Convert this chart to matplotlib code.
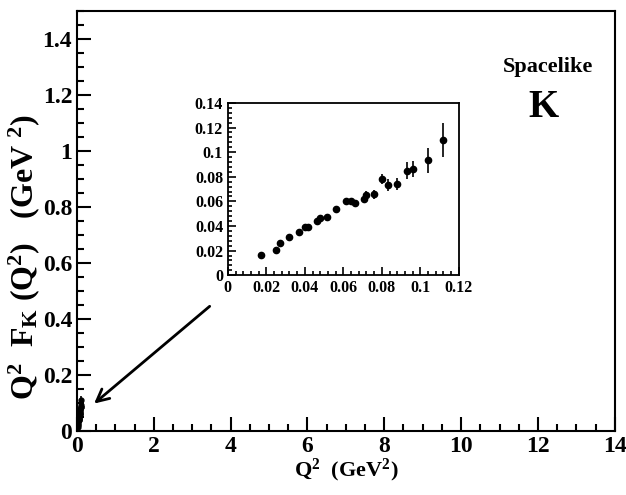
import matplotlib
matplotlib.use('Agg')
import matplotlib.pyplot as plt
from matplotlib.ticker import MultipleLocator

plt.rcParams['font.family'] = 'Liberation Serif'
plt.rcParams['font.weight'] = 'bold'
plt.rcParams['mathtext.fontset'] = 'custom'
plt.rcParams['mathtext.rm'] = 'Liberation Serif:bold'
plt.rcParams['mathtext.bf'] = 'Liberation Serif:bold'
plt.rcParams['mathtext.it'] = 'Liberation Serif:bold'
plt.rcParams['mathtext.default'] = 'bf'

# kaon form factor data
q2 = [0.0173, 0.0250, 0.0271, 0.0319, 0.0369, 0.0402, 0.0418, 0.0464,
      0.0478, 0.0513, 0.0563, 0.0613, 0.0639, 0.0660, 0.0708, 0.0720,
      0.0758, 0.0799, 0.0834, 0.0881, 0.0929, 0.0962, 0.1039, 0.1120]
q2f = [0.0165, 0.0203, 0.0265, 0.0311, 0.0352, 0.0393, 0.0395, 0.0439,
       0.0463, 0.0471, 0.0539, 0.0607, 0.0601, 0.0588, 0.0620, 0.0653,
       0.0658, 0.0783, 0.0734, 0.0742, 0.0850, 0.0861, 0.0934, 0.1097]
err = [0.0012, 0.0012, 0.0013, 0.0013, 0.0014, 0.0014, 0.0015, 0.0015,
       0.0016, 0.0016, 0.0018, 0.0020, 0.0020, 0.0021, 0.0030, 0.0030,
       0.0038, 0.0040, 0.0048, 0.0050, 0.0070, 0.0065, 0.0100, 0.0140]

fig = plt.figure(figsize=(6.26, 4.95), dpi=100)
ax = fig.add_axes([0.123, 0.129, 0.859, 0.849])
ax.errorbar(q2, q2f, yerr=err, fmt='o', color='black', ms=3.5, elinewidth=1.2, capsize=0)
ax.set_xlim(0, 14)
ax.set_ylim(0, 1.5)
ax.xaxis.set_major_locator(MultipleLocator(2))
ax.xaxis.set_minor_locator(MultipleLocator(0.5))
ax.yaxis.set_major_locator(MultipleLocator(0.2))
ax.yaxis.set_minor_locator(MultipleLocator(0.05))
ax.set_yticks([0, 0.2, 0.4, 0.6, 0.8, 1.0, 1.2, 1.4])
ax.set_yticklabels(['0', '0.2', '0.4', '0.6', '0.8', '1', '1.2', '1.4'])
ax.tick_params(which='both', direction='in', labelsize=17, width=1.5)
ax.tick_params(which='major', length=10)
ax.tick_params(which='minor', length=5)
for s in ax.spines.values():
    s.set_linewidth(1.5)
ax.set_xlabel('Q$^2$  (GeV$^2$)', fontsize=16, fontweight='bold', labelpad=0)
ax.set_ylabel('Q$^2$  F$_K$ (Q$^2$)   (GeV $^2$)', fontsize=23, fontweight='bold')
ax.yaxis.set_label_coords(-0.066, 0.415)

ax.text(0.875, 0.867, 'Spacelike', transform=ax.transAxes, ha='center', va='center',
        fontsize=16, fontweight='bold')
ax.text(0.867, 0.771, 'K', transform=ax.transAxes, ha='center', va='center',
        fontsize=28, fontweight='bold')

ax.annotate('', xy=(0.39, 0.092), xytext=(3.51, 0.452),
            arrowprops=dict(arrowstyle='->', lw=2, color='black', mutation_scale=22))

# inset
ins = fig.add_axes([0.364, 0.444, 0.369, 0.348])
ins.errorbar(q2, q2f, yerr=err, fmt='o', color='black', ms=4.5, elinewidth=1.2, capsize=0)
ins.set_xlim(0, 0.12)
ins.set_ylim(0, 0.14)
ins.xaxis.set_major_locator(MultipleLocator(0.02))
ins.xaxis.set_minor_locator(MultipleLocator(0.004))
ins.yaxis.set_major_locator(MultipleLocator(0.02))
ins.yaxis.set_minor_locator(MultipleLocator(0.004))
ins.set_xticks([0, 0.02, 0.04, 0.06, 0.08, 0.1, 0.12])
ins.set_xticklabels(['0', '0.02', '0.04', '0.06', '0.08', '0.1', '0.12'])
ins.set_yticks([0, 0.02, 0.04, 0.06, 0.08, 0.1, 0.12, 0.14])
ins.set_yticklabels(['0', '0.02', '0.04', '0.06', '0.08', '0.1', '0.12', '0.14'])
ins.tick_params(which='both', direction='in', labelsize=11.5, width=1.2)
ins.tick_params(which='major', length=6)
ins.tick_params(which='minor', length=3)
for s in ins.spines.values():
    s.set_linewidth(1.3)

fig.savefig('out.png', dpi=100)
